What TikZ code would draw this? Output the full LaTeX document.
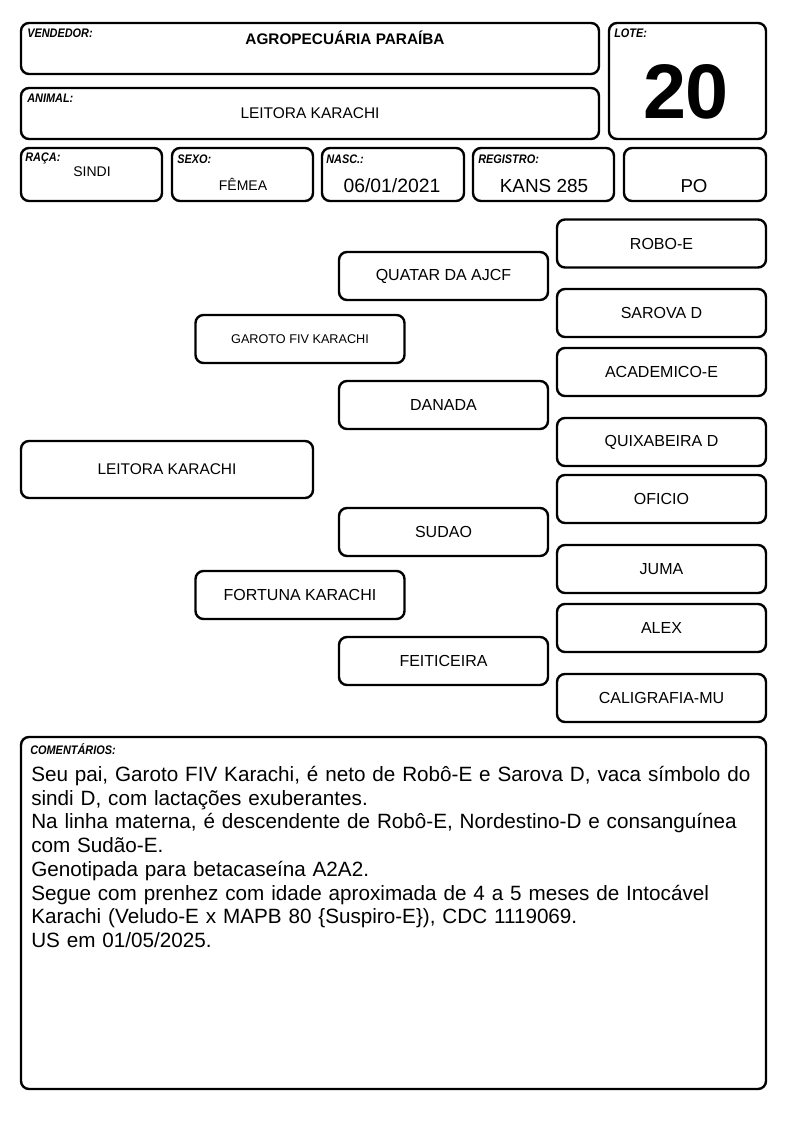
\documentclass[tikz,border=0pt]{standalone}
\usepackage{fontspec}
\setmainfont{Liberation Sans}
\newfontfamily\lblfont[FakeStretch=0.88]{Liberation Sans}
\begin{document}
\begin{tikzpicture}[x=0.75pt,y=-0.75pt,
  box/.style={draw=black, line width=1.8pt, rounded corners=6pt, fill=white, inner sep=0pt},
  lbl/.style={anchor=north west, inner sep=0pt, font=\lblfont\bfseries\itshape\fontsize{9.3}{10}\selectfont},
  val/.style={inner sep=0pt},
  ped/.style={box, minimum width=156.75pt, minimum height=36pt, font=\fontsize{12}{14}\selectfont},
]
\useasboundingbox[fill=white] (0,0) rectangle (794,1123);
% header boxes
\node[box, minimum width=433.5pt, minimum height=38.25pt] (vend) at (310,48.5) {};
\node[box, minimum width=117.75pt, minimum height=87pt] (lote) at (687.5,81) {};
\node[box, minimum width=433.5pt, minimum height=38.25pt] (anim) at (310,113.5) {};
\node[box, minimum width=105.75pt, minimum height=39.75pt] (raca) at (91.5,174.5) {};
\node[box, minimum width=105.75pt, minimum height=39.75pt] (sexo) at (242.5,174.5) {};
\node[box, minimum width=106.5pt, minimum height=39.75pt] (nasc) at (393,174.5) {};
\node[box, minimum width=105.75pt, minimum height=39.75pt] (regi) at (543.5,174.5) {};
\node[box, minimum width=106.5pt, minimum height=39.75pt] (po) at (695,174.5) {};
% labels
\node[lbl] (lvend) at (27,29) {VENDEDOR:};
\node[lbl] (llote) at (614,29) {LOTE:};
\node[lbl] (lanim) at (27,94) {ANIMAL:};
\node[lbl] (lraca) at (25,153) {RAÇA:};
\node[lbl] (lsexo) at (177,155) {SEXO:};
\node[lbl] (lnasc) at (326,155) {NASC.:};
\node[lbl] (lregi) at (478,155) {REGISTRO:};
% values
\node[val, font=\bfseries\fontsize{11.5}{13}\selectfont] (tvend) at (345,38) {AGROPECUÁRIA PARAÍBA};
\node[val, font=\bfseries\fontsize{58}{60}\selectfont] (tlote) at (686,92) {20};
\node[val, font=\fontsize{11.6}{13}\selectfont] (tanim) at (310,113) {LEITORA KARACHI};
\node[val, font=\fontsize{10.5}{12}\selectfont] (traca) at (92,172) {SINDI};
\node[val, font=\fontsize{10.5}{12}\selectfont] (tsexo) at (243,184) {FÊMEA};
\node[val, font=\fontsize{14.5}{16}\selectfont] (tnasc) at (392,186) {06/01/2021};
\node[val, font=\fontsize{14.2}{16}\selectfont] (tregi) at (544,186) {KANS 285};
\node[val, font=\fontsize{14}{16}\selectfont] (tpo) at (694,186) {PO};
% pedigree
\node[ped] (robo) at (661.5,243.5) {ROBO-E};
\node[ped] (quatar) at (443.5,276) {QUATAR DA AJCF};
\node[ped] (sarova) at (661.5,313) {SAROVA D};
\node[ped, font=\fontsize{9.5}{11}\selectfont] (garoto) at (300,339) {GAROTO FIV KARACHI};
\node[ped] (academico) at (661.5,372) {ACADEMICO-E};
\node[ped] (danada) at (443.5,405) {DANADA};
\node[ped] (quixabeira) at (661.5,442) {QUIXABEIRA D};
\node[ped, minimum width=219pt, minimum height=42.75pt, font=\fontsize{11.6}{13}\selectfont] (leitora) at (167,469.5) {LEITORA KARACHI};
\node[ped] (oficio) at (661.5,499) {OFICIO};
\node[ped] (sudao) at (443.5,532) {SUDAO};
\node[ped] (juma) at (661.5,569) {JUMA};
\node[ped] (fortuna) at (300,595) {FORTUNA KARACHI};
\node[ped] (alex) at (661.5,628) {ALEX};
\node[ped] (feiticeira) at (443.5,661) {FEITICEIRA};
\node[ped] (caligrafia) at (661.5,698) {CALIGRAFIA-MU};
% comments
\node[box, minimum width=558.75pt, minimum height=264pt] (coment) at (393.5,913) {};
\node[lbl] (lcoment) at (30,743) {COMENTÁRIOS:};
\node[anchor=north west, inner sep=0pt, text width=560pt, align=left, font=\fontsize{15.5}{17.8}\selectfont] (tcoment) at (31,766) {Seu pai, Garoto FIV Karachi, é neto de Robô-E e Sarova D, vaca símbolo do\\
sindi D, com lactações exuberantes.\\
Na linha materna, é descendente de Robô-E, Nordestino-D e consanguínea\\
com Sudão-E.\\
Genotipada para betacaseína A2A2.\\
Segue com prenhez com idade aproximada de 4 a 5 meses de Intocável\\
Karachi (Veludo-E x MAPB 80 \{Suspiro-E\}), CDC 1119069.\\
US em 01/05/2025.};
\end{tikzpicture}
\end{document}
